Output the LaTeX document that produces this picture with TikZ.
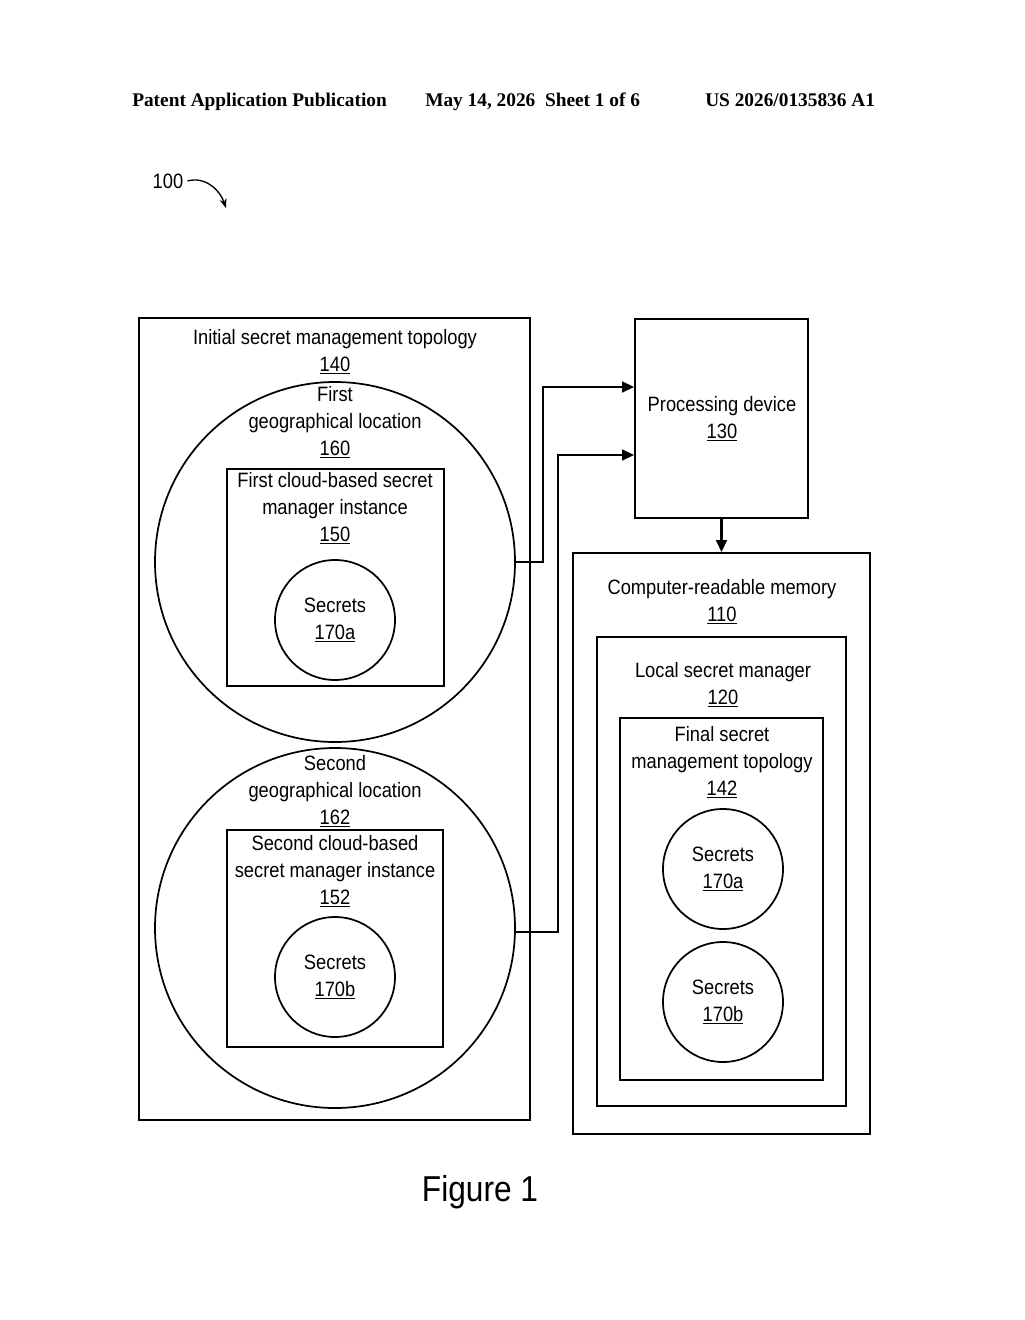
\documentclass[tikz,border=0pt]{standalone}
\usepackage{fontspec}
\setmainfont{Liberation Sans}[FakeStretch=0.88]
\newfontfamily\hdr{Liberation Serif}
\usetikzlibrary{arrows.meta}
\begin{document}
\begin{tikzpicture}[x=0.75pt,y=-0.75pt,
  box/.style={draw,line width=1.3pt},
  lbl/.style={font=\fontsize{15.6}{20.25}\selectfont,align=center,inner sep=0},
  hd/.style={font=\hdr\bfseries\fontsize{14.5}{16}\selectfont,anchor=base west,inner sep=0},
  arr/.style={line width=1.8pt,-{Triangle[length=9pt,width=8pt]}}]
\useasboundingbox (0,0) rectangle (1024,1320);
\node[hd] (h1) at (132,107) {Patent Application Publication};
\node[hd] (h2) at (425,107) {May 14, 2026\ \ Sheet 1 of 6};
\node[hd] (h3) at (705,107) {US 2026/0135836 A1};
\node[lbl] (n100) at (168,181) {100};
\coordinate (c100) at (226,208);
\draw[line width=1pt,-{Stealth[length=7pt]}] (n100.east) ++(4,0) .. controls (205,176) and (220,190) .. (c100);
% left
\draw[box] (139,318) rectangle (530,1120);
\node[lbl] (t140) at (335,352) {Initial secret management topology\\\underline{140}};
\node[box,circle,minimum size=360*0.75pt] (g1) at (335,562) {};
\node[lbl] (t160) at (335,422) {First\\geographical location\\\underline{160}};
\draw[box] (227,469) rectangle (444,686);
\node[lbl] (t150) at (335,508) {First cloud-based secret\\manager instance\\\underline{150}};
\node[box,circle,minimum size=120*0.75pt,lbl] (s1) at (335,620) {Secrets\\\underline{170a}};
\node[box,circle,minimum size=360*0.75pt] (g2) at (335,928) {};
\node[lbl] (t162) at (335,791) {Second\\geographical location\\\underline{162}};
\draw[box] (227,830) rectangle (443,1047);
\node[lbl] (t152) at (335,871) {Second cloud-based\\secret manager instance\\\underline{152}};
\node[box,circle,minimum size=120*0.75pt,lbl] (s2) at (335,977) {Secrets\\\underline{170b}};
% right
\node[box,minimum width=173*0.75pt,minimum height=199*0.75pt] (pd) at (721.5,418.5) {};
\node[lbl] (t130) at (722,419) {Processing device\\\underline{130}};
\node[box,minimum width=297*0.75pt,minimum height=581*0.75pt] (mem) at (721.5,843.5) {};
\node[lbl] (t110) at (722,602) {Computer-readable memory\\\underline{110}};
\draw[box] (597,637) rectangle (846,1106);
\node[lbl] (t120) at (723,685) {Local secret manager\\\underline{120}};
\draw[box] (620,718) rectangle (823,1080);
\node[lbl] (t142) at (722,762) {Final secret\\management topology\\\underline{142}};
\node[box,circle,minimum size=120*0.75pt,lbl] (s3) at (723,869) {Secrets\\\underline{170a}};
\node[box,circle,minimum size=120*0.75pt,lbl] (s4) at (723,1002) {Secrets\\\underline{170b}};
% arrows
\draw[arr] (g1.east) -- (543,562) |- (pd.west |- 0,387);
\draw[arr] (g2.east) ++(0,4) -- (558,932) |- (pd.west |- 0,455);
\draw[arr] (pd.south) -- (mem.north);
\node[font=\fontsize{27}{30}\selectfont] (fig) at (480,1192) {Figure 1};
\end{tikzpicture}
\end{document}
